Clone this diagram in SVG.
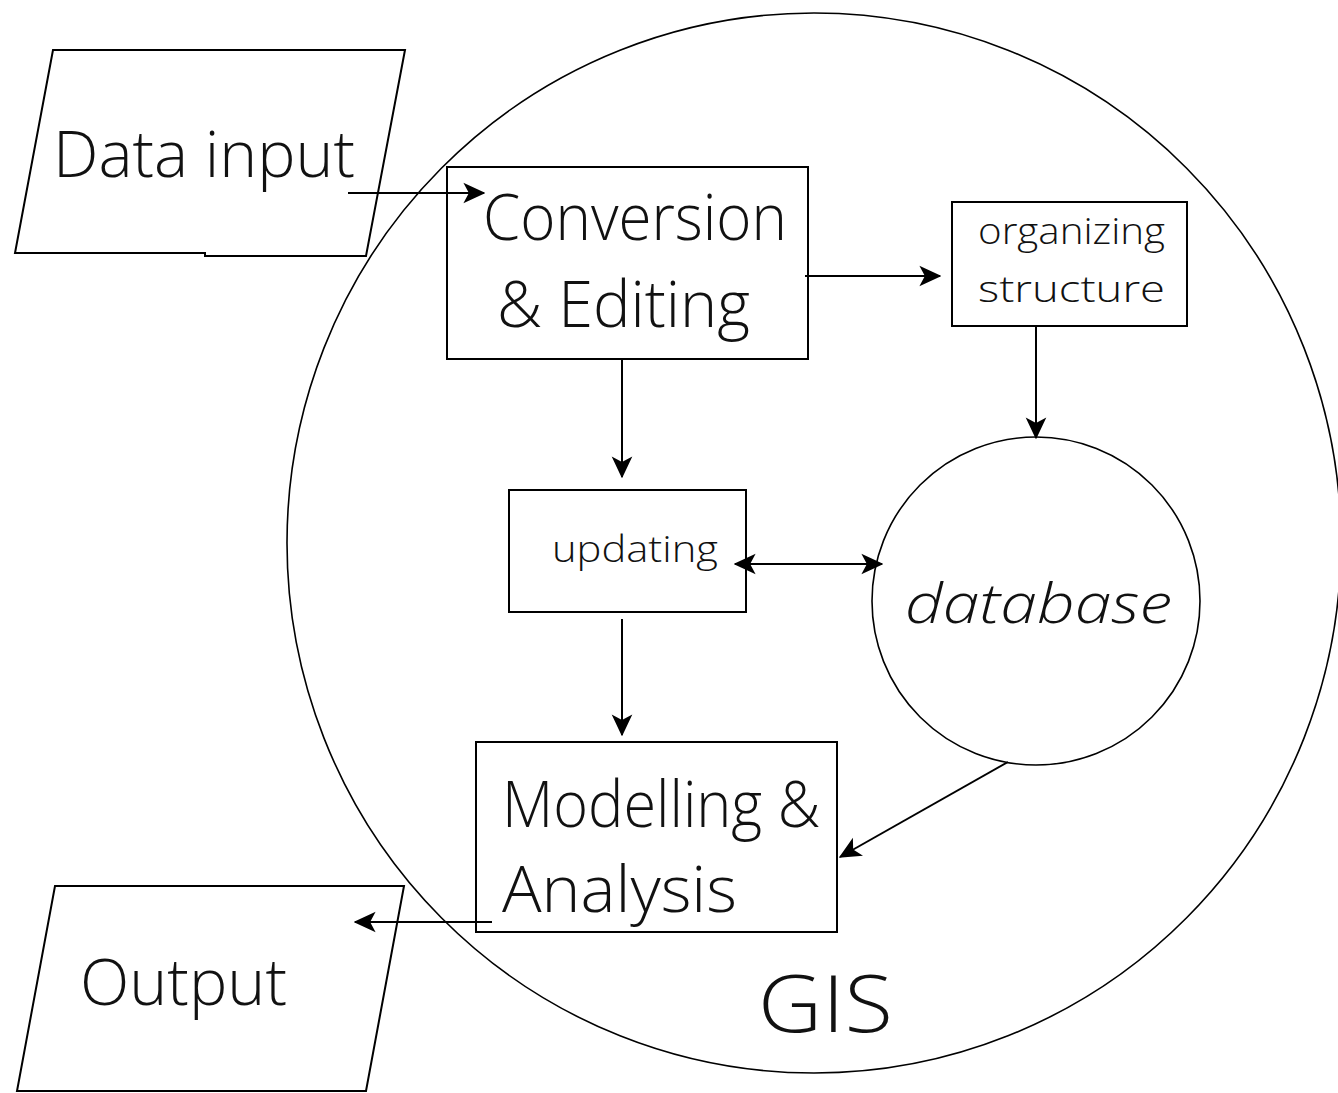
<svg xmlns="http://www.w3.org/2000/svg" width="1338" height="1093" viewBox="0 0 1338 1093">
  <style>
    .shape { fill: none; stroke: #000; stroke-width: 2; }
    .ring { fill: none; stroke: #000; stroke-width: 1.6; }
    .link { fill: none; stroke: #000; stroke-width: 2; }
    .lbl { font-family: "Open Sans", "Liberation Sans", sans-serif; font-weight: 300; fill: #111; }
    .big { font-size: 64px; }
    .small { font-size: 37px; }
  </style>
  <defs>
    <marker id="head" viewBox="0 0 16 16" refX="15" refY="8" markerWidth="22" markerHeight="22" markerUnits="userSpaceOnUse" orient="auto-start-reverse">
      <path d="M0,0.5 L16,8 L0,15.5 L4,8 Z" fill="#000"/>
    </marker>
  </defs>
  <rect width="1338" height="1093" fill="#fff"/>

  <!-- GIS boundary -->
  <g id="gis">
    <ellipse class="ring" cx="814" cy="543" rx="527" ry="530"/>
    <text class="lbl" x="758" y="1032" font-size="80" textLength="135" lengthAdjust="spacingAndGlyphs">GIS</text>
  </g>

  <!-- input / output parallelograms -->
  <g id="data-input">
    <path class="shape" d="M53,50 L405,50 L366,256 L205,256 L205,253 L15,253 Z"/>
    <text class="lbl big" x="53" y="177" textLength="302" lengthAdjust="spacingAndGlyphs">Data input</text>
  </g>
  <g id="output">
    <path class="shape" d="M55,886 L404,886 L366,1091 L17,1091 Z"/>
    <text class="lbl big" x="80" y="1005" textLength="207" lengthAdjust="spacingAndGlyphs">Output</text>
  </g>

  <!-- process boxes -->
  <g id="conversion">
    <rect class="shape" x="447" y="167" width="361" height="192"/>
    <text class="lbl big" x="483" y="240" textLength="304" lengthAdjust="spacingAndGlyphs">Conversion</text>
    <text class="lbl big" x="497" y="327" textLength="253" lengthAdjust="spacingAndGlyphs">&amp; Editing</text>
  </g>
  <g id="organizing">
    <rect class="shape" x="952" y="202" width="235" height="124"/>
    <text class="lbl small" x="978" y="244" textLength="187" lengthAdjust="spacingAndGlyphs">organizing</text>
    <text class="lbl small" x="978" y="302" textLength="187" lengthAdjust="spacingAndGlyphs">structure</text>
  </g>
  <g id="updating">
    <rect class="shape" x="509" y="490" width="237" height="122"/>
    <text class="lbl small" x="552" y="562" textLength="166" lengthAdjust="spacingAndGlyphs">updating</text>
  </g>
  <g id="database">
    <circle class="ring" cx="1036" cy="601" r="164"/>
    <text class="lbl" x="905" y="623" font-size="56" font-style="italic" textLength="267" lengthAdjust="spacingAndGlyphs">database</text>
  </g>
  <g id="modelling">
    <rect class="shape" x="476" y="742" width="361" height="190"/>
    <text class="lbl big" x="502" y="827" textLength="318" lengthAdjust="spacingAndGlyphs">Modelling &amp;</text>
    <text class="lbl big" x="502" y="912" textLength="235" lengthAdjust="spacingAndGlyphs">Analysis</text>
  </g>

  <!-- connectors -->
  <g id="connectors">
    <line class="link" x1="348" y1="193" x2="484" y2="193" marker-end="url(#head)"/>
    <line class="link" x1="805" y1="276" x2="940" y2="276" marker-end="url(#head)"/>
    <line class="link" x1="1036" y1="326" x2="1036" y2="438" marker-end="url(#head)"/>
    <line class="link" x1="622" y1="359" x2="622" y2="477" marker-end="url(#head)"/>
    <line class="link" x1="735" y1="564" x2="882" y2="564" marker-start="url(#head)" marker-end="url(#head)"/>
    <line class="link" x1="622" y1="619" x2="622" y2="735" marker-end="url(#head)"/>
    <line class="link" x1="1008" y1="762" x2="840" y2="857" marker-end="url(#head)"/>
    <line class="link" x1="492" y1="922" x2="355" y2="922" marker-end="url(#head)"/>
  </g>
</svg>
